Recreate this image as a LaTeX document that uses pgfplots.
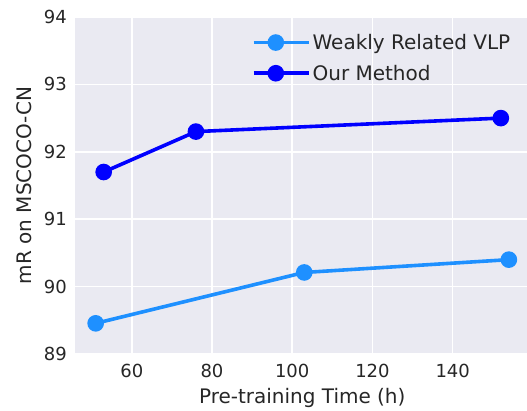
\documentclass[border=0pt]{standalone}
\usepackage{fontspec}
\setmainfont{DejaVu Sans}
\usepackage{pgfplots}
\pgfplotsset{compat=1.18}
\definecolor{bg}{HTML}{EAEAF2}
\definecolor{txt}{HTML}{262626}
\definecolor{cA}{HTML}{1E90FF}
\definecolor{cB}{HTML}{0000FF}
\begin{document}
\begin{tikzpicture}
\begin{axis}[
  at={(0,0)}, anchor=south west,
  scale only axis, width=454.5pt, height=337pt,
  xmin=45.85, xmax=159.15, ymin=89, ymax=94,
  xtick={60,80,100,120,140}, ytick={89,90,91,92,93,94},
  axis background/.style={fill=bg},
  grid=major, major grid style={white, line width=1.5pt},
  axis line style={draw=none},
  tick style={draw=none},
  /pgf/number format/assume math mode=true,
  tick label style={font=\fontsize{18}{21}\selectfont, text=txt},
  yticklabel style={inner sep=0pt, anchor=east, xshift=-8pt},
  xticklabel style={inner sep=0pt, anchor=north, yshift=-10pt},
  label style={font=\fontsize{20}{24}\selectfont, text=txt},
  xlabel={Pre-training Time (h)},
  ylabel={mR on MSCOCO-CN},
  xlabel style={at={(axis description cs:0.5,-0.1306)}, anchor=center},
  ylabel style={at={(axis description cs:-0.111,0.5)}, anchor=center},
  legend style={at={(1,1)}, anchor=north east, xshift=-14pt, yshift=-13pt,
    draw=none, fill=none, font=\fontsize{20}{24}\selectfont, text=txt,
    row sep=10pt},
  legend cell align=left,
  legend image code/.code={\draw[mark repeat=2,mark phase=2,#1] plot coordinates {(0pt,0pt) (22pt,0pt) (44pt,0pt)};\path (0pt,0pt) -- (55pt,0pt);},
]
\addplot[cA, line width=3.6pt, mark=*, mark size=6.5pt, mark options={solid}] coordinates {(51,89.455) (103,90.21) (154,90.4)};
\addlegendentry{Weakly Related VLP}
\addplot[cB, line width=3.6pt, mark=*, mark size=6.5pt, mark options={solid}] coordinates {(53,91.7) (76,92.3) (152,92.5)};
\addlegendentry{Our Method}
\end{axis}
\pgfresetboundingbox
\path[use as bounding box] (-75pt,-56pt) rectangle (452pt,354pt);
\end{tikzpicture}
\end{document}
